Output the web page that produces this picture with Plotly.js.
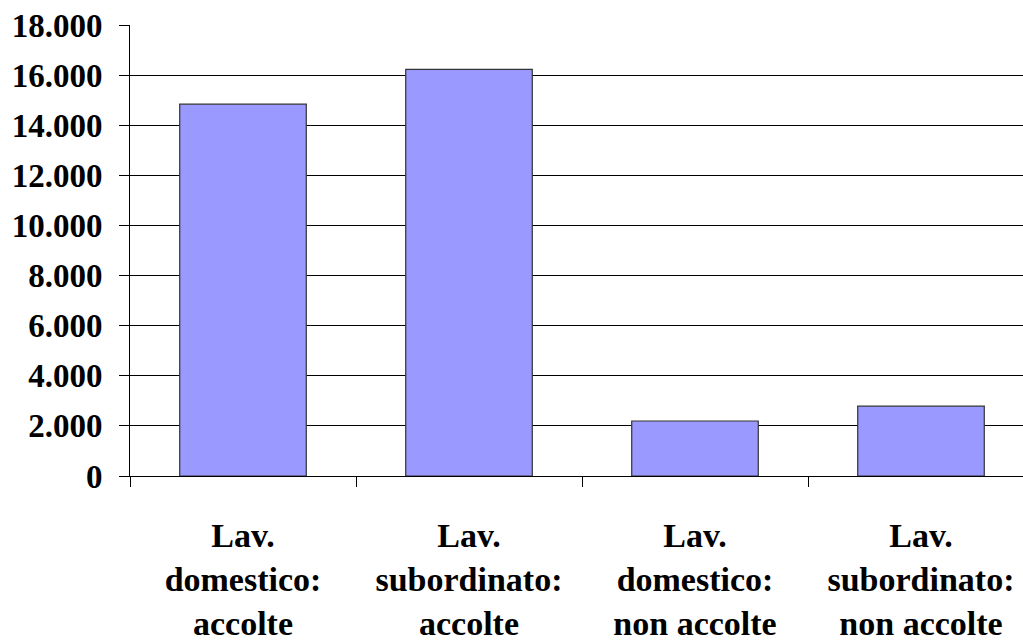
<!DOCTYPE html>
<html>
<head>
<meta charset="utf-8">
<script src="https://cdn.plot.ly/plotly-3.0.1.min.js"></script>
<style>
html, body { margin: 0; padding: 0; overflow: hidden; background: #fff; }
#chart { width: 1040px; height: 642px; }
</style>
</head>
<body>
<div id="chart"></div>
<script>
const categories = ["dom_acc", "sub_acc", "dom_non", "sub_non"];
const tickLabels = [
  "Lav.<br>domestico:<br>accolte",
  "Lav.<br>subordinato:<br>accolte",
  "Lav.<br>domestico:<br>non accolte",
  "Lav.<br>subordinato:<br>non accolte"
];
const values = [14840, 16230, 2195, 2785];
const yTicks = [0, 2000, 4000, 6000, 8000, 10000, 12000, 14000, 16000, 18000];

const family = "'Liberation Serif', 'Times New Roman', serif";
const yFont = { family: family, size: 33, color: "#000", weight: "bold" };
const xFont = { family: family, size: 34, color: "#000", weight: "bold" };

Plotly.newPlot("chart", [{
  type: "bar",
  x: categories,
  y: values,
  marker: { color: "#9999FF", line: { color: "#333333", width: 1.2 } },
  hoverinfo: "none"
}], {
  width: 1040,
  height: 642,
  margin: { l: 130, r: 6, t: 25, b: 166 },
  paper_bgcolor: "#fff",
  plot_bgcolor: "#fff",
  separators: ",.",
  bargap: 0.44,
  showlegend: false,
  font: yFont,
  xaxis: {
    type: "category",
    tickvals: categories,
    ticktext: tickLabels,
    tickson: "boundaries",
    ticks: "outside",
    ticklen: 10,
    tickcolor: "#000",
    tickwidth: 1,
    showline: true,
    linecolor: "#000",
    linewidth: 1,
    showgrid: false,
    tickfont: xFont,
    ticklabelstandoff: 29,
    fixedrange: true
  },
  yaxis: {
    range: [0, 18000],
    tickvals: yTicks,
    tickformat: ",",
    ticks: "outside",
    ticklen: 10,
    tickcolor: "#000",
    showline: true,
    linecolor: "#000",
    linewidth: 1,
    showgrid: true,
    gridcolor: "#000",
    gridwidth: 1,
    zeroline: false,
    tickfont: yFont,
    ticklabelstandoff: 10,
    fixedrange: true
  }
}, { displayModeBar: false, staticPlot: true });
</script>
</body>
</html>
